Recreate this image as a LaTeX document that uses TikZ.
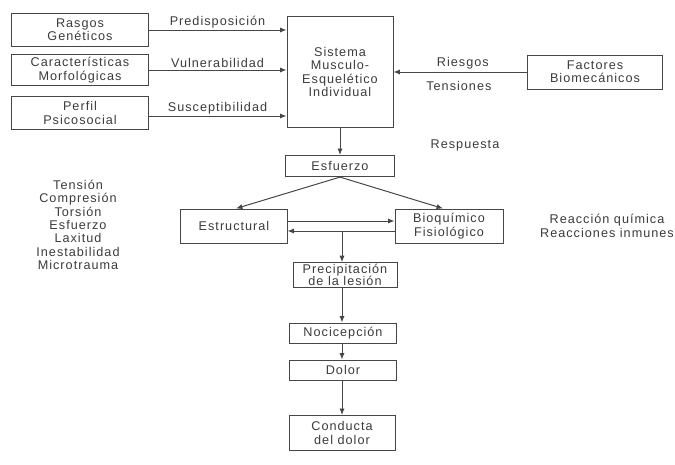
\documentclass[tikz,border=0pt]{standalone}
\usepackage{fontspec}
\setmainfont{Liberation Sans}[LetterSpace=8]
\usetikzlibrary{arrows.meta,positioning,calc}
\definecolor{linegray}{RGB}{70,70,70}
\definecolor{textgray}{RGB}{60,60,60}
\begin{document}
\begin{tikzpicture}[x=0.025cm, y=-0.025cm,
  box/.style={draw=linegray, fill=white, line width=0.7pt, align=center,
    inner sep=1pt, text=textgray, font=\fontsize{9}{9.5}\selectfont},
  arrow/.style={-{Latex[length=1.6mm,width=1.3mm]}, line width=0.7pt, draw=linegray},
  label/.style={text=textgray, font=\fontsize{9}{9.5}\selectfont, align=center, inner sep=1pt}
]
\useasboundingbox[fill=white] (0,0) rectangle (675,465);

\node[box, minimum width=3.4cm, minimum height=0.83cm] (gen) at (80,30) {Rasgos\\Genéticos};
\node[box, minimum width=3.4cm, minimum height=0.78cm] (morf) at (80,70) {Características\\Morfológicas};
\node[box, minimum width=3.4cm, minimum height=0.83cm] (psico) at (80,113) {Perfil\\Psicosocial};
\node[box, minimum width=2.65cm, minimum height=2.75cm] (sis) at (340,72) {Sistema\\Musculo-\\Esquelético\\Individual};
\node[box, minimum width=3.38cm, minimum height=0.85cm] (fact) at (595,72) {Factores\\Biomecánicos};

\draw[arrow] (gen.east) -- (gen.east -| sis.west) node[label, midway, above] {Predisposición};
\draw[arrow] (morf.east) -- (morf.east -| sis.west) node[label, midway, above] {Vulnerabilidad};
\draw[arrow] ([yshift=-0.075cm]psico.east) -- ([yshift=-0.075cm]psico.east -| sis.west) node[label, midway, above] {Susceptibilidad};
\draw[arrow] (fact.west) -- (fact.west -| sis.east)
  node[label, pos=0.48, above=1pt] {Riesgos}
  node[label, pos=0.51, below=5pt] {Tensiones};

\node[box, minimum width=2.72cm, minimum height=0.53cm] (esf) at (340,166) {Esfuerzo};
\draw[arrow] (sis.south) -- (esf.north);
\node[label] (resp) at (465,145) {Respuesta};

\node[box, minimum width=2.65cm, minimum height=0.85cm] (est) at (234,226) {Estructural};
\node[box, minimum width=2.7cm, minimum height=0.85cm] (bioq) at (449,226) {Bioquímico\\Fisiológico};
\draw[arrow] (esf.south) -- ([xshift=0.05cm]est.north);
\draw[arrow] (esf.south) -- ([xshift=-0.15cm]bioq.north);
\draw[arrow] ([yshift=0.125cm]est.east) -- ([yshift=0.125cm]bioq.west);
\draw[arrow] ([yshift=-0.125cm]bioq.west) -- ([yshift=-0.125cm]est.east);

\node[label] (mech) at (78,225) {Tensión\\Compresión\\Torsión\\Esfuerzo\\Laxitud\\Inestabilidad\\Microtrauma};
\node[label] (chem) at (607,226) {Reacción química\\Reacciones inmunes};

\coordinate (split) at (342,231);
\node[box, minimum width=2.6cm, minimum height=0.62cm] (prec) at (345,275) {Precipitación\\[-1pt]de la lesión};
\node[box, minimum width=2.68cm, minimum height=0.5cm] (noci) at (343,333) {Nocicepción};
\node[box, minimum width=2.68cm, minimum height=0.5cm] (dolor) at (343,370) {Dolor};
\node[box, minimum width=2.65cm, minimum height=0.88cm] (cond) at (342,433) {Conducta\\del dolor};

\draw[arrow] (split) -- (split |- prec.north);
\draw[arrow] (prec.south -| split) -- (split |- noci.north);
\draw[arrow] (noci.south -| split) -- (split |- dolor.north);
\draw[arrow] (dolor.south -| split) -- (split |- cond.north);
\end{tikzpicture}
\end{document}
